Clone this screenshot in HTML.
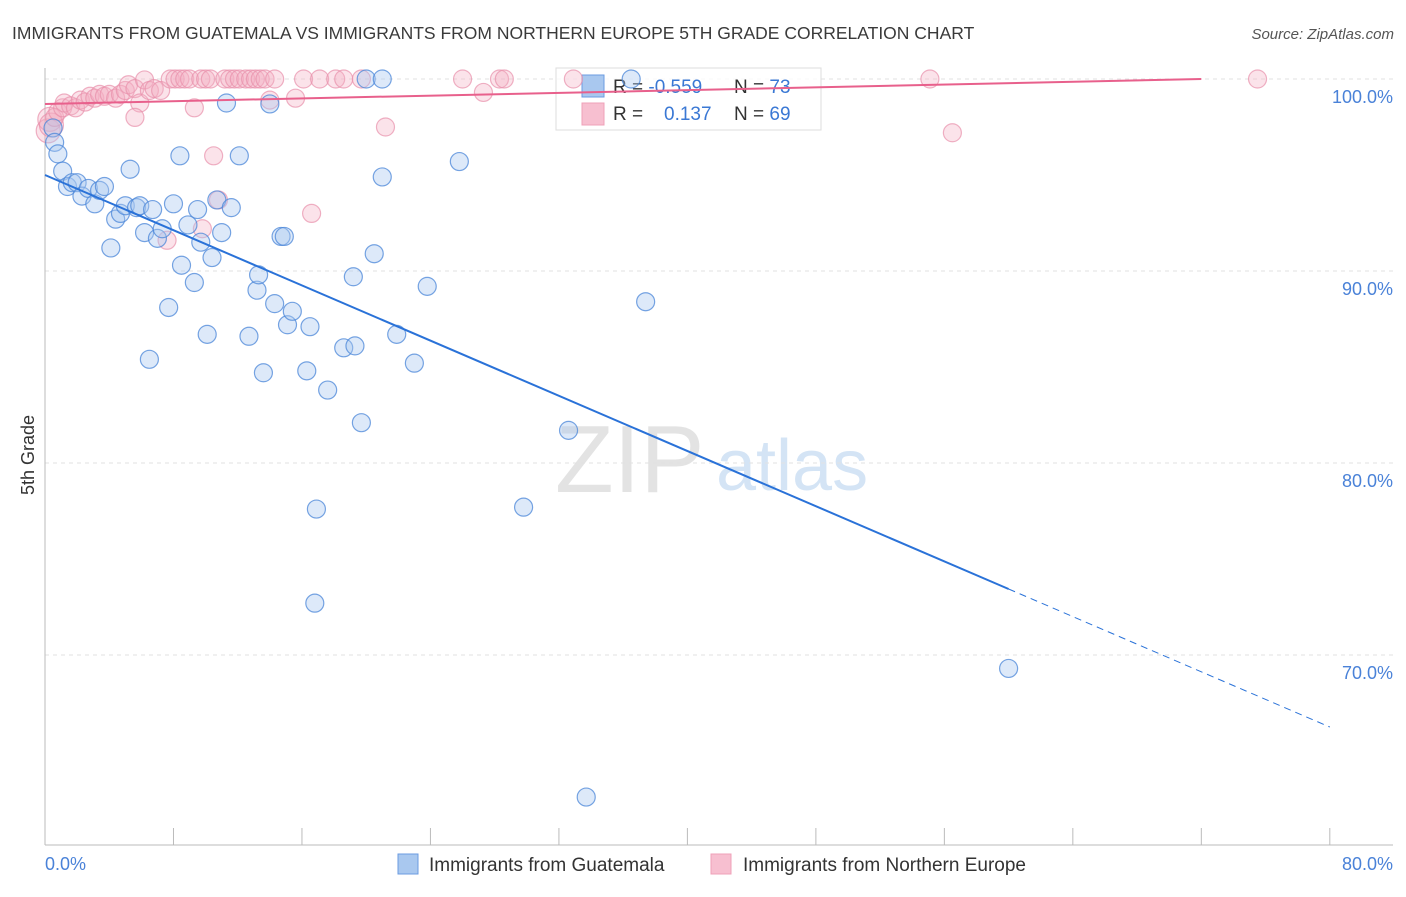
<!DOCTYPE html>
<html><head><meta charset="utf-8"><style>
body{margin:0;background:#fff;font-family:"Liberation Sans",sans-serif;}
svg text{font-family:"Liberation Sans",sans-serif;}
</style></head><body>
<svg id="chart" width="1406" height="892" viewBox="0 0 1406 892" xmlns="http://www.w3.org/2000/svg">
<text x="12" y="39" font-size="17.5" fill="#3a3a3a">IMMIGRANTS FROM GUATEMALA VS IMMIGRANTS FROM NORTHERN EUROPE 5TH GRADE CORRELATION CHART</text>
<text x="1394" y="39" font-size="15" fill="#555" text-anchor="end" font-style="italic">Source: ZipAtlas.com</text>
<g>
<text x="555" y="492" font-size="96" fill="#d8d8d8" font-family="Liberation Serif,serif" opacity="0.7">ZIP</text>
<text x="716" y="490" font-size="72" fill="#b9d3ef" opacity="0.6">atlas</text>
</g>
<g id="grid"></g>
<g id="axes"></g>
<g>
<rect x="556" y="68" width="265" height="62" fill="#fff" fill-opacity="0.75" stroke="#ddd"/>
<rect x="582" y="75" width="22" height="22" fill="#a9c8ef" stroke="#6b9be0"/>
<rect x="582" y="103" width="22" height="22" fill="#f7bfd0" stroke="#efa0b8"/>
<text x="613" y="93" font-size="19" fill="#333">R = <tspan fill="#3a78d4">-0.559</tspan></text>
<text x="734" y="93" font-size="19" fill="#333">N = <tspan fill="#3a78d4">73</tspan></text>
<text x="613" y="120" font-size="19" fill="#333">R = </text>
<text x="664" y="120" font-size="19" fill="#3a78d4">0.137</text>
<text x="734" y="120" font-size="19" fill="#333">N = <tspan fill="#3a78d4">69</tspan></text>
</g>
<g id="marks"></g>
<text transform="translate(34,455) rotate(-90)" font-size="18" fill="#333" text-anchor="middle">5th Grade</text>
<g>
<rect x="398" y="854" width="20" height="20" fill="#a9c8ef" stroke="#6b9be0"/>
<text x="429" y="871" font-size="19" fill="#333">Immigrants from Guatemala</text>
<rect x="711" y="854" width="20" height="20" fill="#f7bfd0" stroke="#efa0b8"/>
<text x="743" y="871" font-size="19" fill="#333">Immigrants from Northern Europe</text>
</g>
</svg>
<script>
const yTicks=[100,90,80,70];
const yTickLabels=["100.0%","90.0%","80.0%","70.0%"];
const xTickLabels=["0.0%","80.0%"];
const blueX=[0.5,0.6,0.8,1.1,1.4,1.7,2.0,2.3,2.7,3.1,3.4,3.7,4.1,4.4,4.7,5.0,5.3,5.7,5.9,6.2,6.5,6.7,7.0,7.3,7.7,8.0,8.4,8.5,8.9,9.3,9.5,9.7,10.1,10.4,10.7,11.0,11.3,11.6,12.1,12.7,13.2,13.3,13.6,14.0,14.3,14.7,14.9,15.1,15.4,16.3,16.5,16.8,16.9,17.6,18.6,19.2,19.3,19.7,20.0,20.5,21.0,21.0,21.9,23.0,23.8,25.8,29.8,32.6,33.7,36.5,37.4,60.0];
const blueY=[97.45,96.7,96.1,95.2,94.4,94.6,94.6,93.9,94.3,93.5,94.2,94.4,91.2,92.7,93.0,93.4,95.3,93.3,93.4,92.0,85.4,93.2,91.7,92.2,88.1,93.5,96.0,90.3,92.4,89.4,93.2,91.5,86.7,90.7,93.7,92.0,98.75,93.3,96.0,86.6,89.0,89.8,84.7,98.7,88.3,91.8,91.8,87.2,87.9,84.8,87.1,72.7,77.6,83.8,86.0,89.7,86.1,82.1,100,90.9,100,94.9,86.7,85.2,89.2,95.7,77.7,81.7,62.6,100,88.4,69.3];
const pinkX=[0.2,0.3,0.4,0.6,0.8,1.1,1.2,1.6,1.9,2.2,2.5,2.8,3.1,3.4,3.7,4.0,4.4,4.7,5.0,5.2,5.6,5.9,5.6,6.2,6.5,6.8,7.2,7.6,7.8,8.1,8.4,8.7,9.0,9.3,9.7,10.0,10.3,10.5,10.8,9.8,11.2,11.5,11.8,12.1,12.5,12.8,13.1,13.4,13.7,14.3,14.0,15.6,16.1,16.6,17.1,18.1,18.6,19.7,21.2,26.0,27.3,28.3,28.6,32.9,55.1,56.5,75.5];
const pinkY=[97.3,97.9,97.6,98.0,98.3,98.5,98.75,98.6,98.5,98.9,98.8,99.1,99.0,99.2,99.1,99.2,99.0,99.2,99.4,99.7,99.5,98.75,98.0,99.95,99.4,99.5,99.4,91.6,100,100,100,100,100,98.5,100,100,100,96.0,93.7,92.2,100,100,100,100,100,100,100,100,100,100,98.9,99.0,100,93.0,100,100,100,100,97.5,100,99.3,100,100,100,100,97.2,100];
const blueTrend=[95.0,66.25]; // y at x=0 and x=80
const pinkTrend=[98.7,100.0]; // y at x=0 and x=72
const NS="http://www.w3.org/2000/svg";
const X=v=>45+v*16.06, Y=v=>79+(100-v)*19.2;
function mk(tag,attrs,parent){const e=document.createElementNS(NS,tag);for(const k in attrs)e.setAttribute(k,attrs[k]);parent.appendChild(e);return e;}
const grid=document.getElementById('grid'),axes=document.getElementById('axes'),marks=document.getElementById('marks');
yTicks.forEach((t,i)=>{
 const l=mk('line',{x1:45,x2:1393,y1:Y(t),y2:Y(t),stroke:'#e2e2e2','stroke-dasharray':'4 4'},grid);
 
 
 const tx=mk('text',{x:1393,y:Y(t)+24,'font-size':18,fill:'#4a82d8','text-anchor':'end'},axes);
 tx.textContent=yTickLabels[i];
 
 
});
const xa=mk('line',{x1:45,x2:1393,y1:845,y2:845,stroke:'#bbb'},axes);


const ya=mk('line',{x1:45,x2:45,y1:68,y2:845,stroke:'#bbb'},axes);


for(let i=0;i<=10;i++){const t=mk('line',{x1:X(i*8),x2:X(i*8),y1:828,y2:845,stroke:'#bbb'},axes);
 
 }
const xl0=mk('text',{x:45,y:870,'font-size':18,fill:'#4a82d8'},axes);xl0.textContent=xTickLabels[0];


const xl1=mk('text',{x:1393,y:870,'font-size':18,fill:'#4a82d8','text-anchor':'end'},axes);xl1.textContent=xTickLabels[1];


pinkX.forEach((x,i)=>{const c=mk('circle',{cx:X(x),cy:Y(pinkY[i]),r:i<3?12:9,fill:'#f4b0c4','fill-opacity':0.35,stroke:'#e890ab','stroke-opacity':0.7,'stroke-width':1.2},marks);
 
 });
blueX.forEach((x,i)=>{const c=mk('circle',{cx:X(x),cy:Y(blueY[i]),r:9,fill:'#a9c8ef','fill-opacity':0.4,stroke:'#4a86d8','stroke-opacity':0.75,'stroke-width':1.2},marks);
 
 });
const bAt=x=>blueTrend[0]+(blueTrend[1]-blueTrend[0])*x/80;
const bl=mk('line',{x1:X(0),y1:Y(bAt(0)),x2:X(60),y2:Y(bAt(60)),stroke:'#2a72d8','stroke-width':2},marks);


const bd=mk('line',{x1:X(60),y1:Y(bAt(60)),x2:X(80),y2:Y(bAt(80)),stroke:'#2a72d8','stroke-width':1,'stroke-dasharray':'7 5'},marks);


const pl=mk('line',{x1:X(0),y1:Y(pinkTrend[0]),x2:X(72),y2:Y(pinkTrend[1]),stroke:'#e8608c','stroke-width':2},marks);


</script>
</body></html>
